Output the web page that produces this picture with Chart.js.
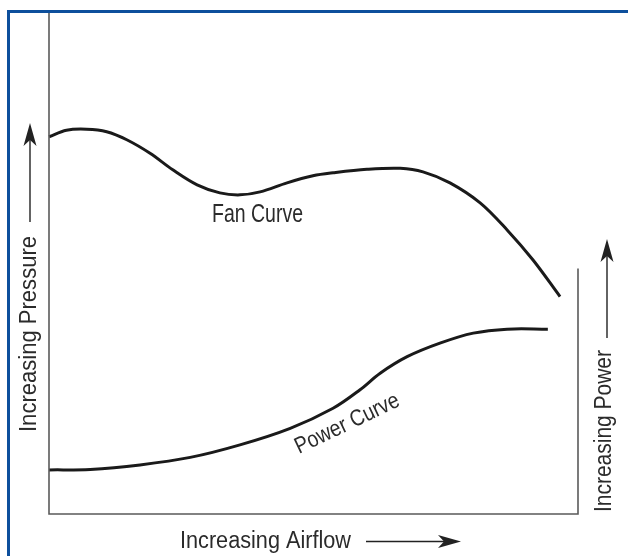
<!DOCTYPE html>
<html>
<head>
<meta charset="utf-8">
<script src="https://cdn.jsdelivr.net/npm/chart.js@4/dist/chart.umd.min.js"></script>
<style>
  html, body { margin: 0; padding: 0; background: #fff; }
  #wrap { width: 628px; height: 556px; position: relative; }
</style>
</head>
<body>
<div id="wrap"><canvas id="c" width="628" height="556"></canvas></div>
<script>
// Airflow (0-100, relative) for each sampled point
const fanAirflow   = [0, 3.3, 7.1, 10.9, 14.7, 19.1, 23.4, 28.0, 32.3, 36.1, 39.9, 45.0, 49.9, 53.7, 60.1, 66.4, 70.7, 75.8, 81.5, 86.6, 91.5, 96.6];
// Pressure (0-100, relative)
const fanPressure  = [75.3, 76.6, 76.8, 76.3, 74.7, 72.0, 68.7, 65.7, 64.1, 63.7, 64.3, 66.1, 67.5, 68.1, 68.8, 69.0, 68.3, 66.1, 62.1, 56.7, 50.7, 43.4];

const powerAirflow = [0, 7.8, 17.2, 26.7, 36.1, 45.6, 53.7, 58.8, 62.6, 67.7, 73.9, 80.2, 86.6, 94.3];
// Power (0-100, relative)
const powerValues  = [8.8, 8.9, 9.8, 11.3, 13.8, 17.1, 21.1, 24.8, 28.1, 31.4, 34.1, 36.1, 36.9, 36.9];

const xLabel = 'Increasing Airflow';
const yLabel = 'Increasing Pressure';
const y2Label = 'Increasing Power';
const fanLabel = 'Fan Curve';
const powerLabel = 'Power Curve';
const powerAxisTop = 49; // height of the right-hand power axis line

const FONT_FAMILY = "'Liberation Sans Narrow', 'Liberation Sans', Arial, sans-serif";
const TEXT_COLOR = '#2b2b2b';

function fitText(ctx, text, x, y, width, size, rot) {
  ctx.save();
  ctx.font = size + 'px ' + FONT_FAMILY;
  const w = ctx.measureText(text).width;
  ctx.translate(x, y);
  ctx.rotate(rot || 0);
  ctx.scale(width / w, 1);
  ctx.fillStyle = TEXT_COLOR;
  ctx.textBaseline = 'alphabetic';
  ctx.textAlign = 'left';
  ctx.fillText(text, 0, 0);
  ctx.restore();
}

function arrow(ctx, x1, y1, x2, y2) {
  const ang = Math.atan2(y2 - y1, x2 - x1);
  const L = 23, H = 6.5, N = 17;
  ctx.save();
  ctx.strokeStyle = '#222';
  ctx.fillStyle = '#222';
  ctx.lineWidth = 1.4;
  ctx.beginPath();
  ctx.moveTo(x1, y1);
  ctx.lineTo(x2 - Math.cos(ang) * N, y2 - Math.sin(ang) * N);
  ctx.stroke();
  ctx.translate(x2, y2);
  ctx.rotate(ang);
  ctx.beginPath();
  ctx.moveTo(0, 0);
  ctx.lineTo(-L, -H);
  ctx.lineTo(-N, 0);
  ctx.lineTo(-L, H);
  ctx.closePath();
  ctx.fill();
  ctx.restore();
}

const decor = {
  id: 'decor',
  beforeDraw(chart) {
    const ctx = chart.ctx;
    ctx.save();
    ctx.fillStyle = '#fff';
    ctx.fillRect(0, 0, chart.width, chart.height);
    ctx.restore();
  },
  afterDatasetsDraw(chart) {
    const ctx = chart.ctx;
    const a = chart.chartArea;
    const ys = chart.scales.y2;
    ctx.save();
    ctx.fillStyle = '#0d4f9c';
    ctx.fillRect(7, 10, 3, chart.height - 10);
    ctx.fillRect(7, 10, chart.width - 7, 3);
    ctx.strokeStyle = '#5a5a5a';
    ctx.lineWidth = 1.6;
    ctx.beginPath();
    ctx.moveTo(a.left, a.top);
    ctx.lineTo(a.left, a.bottom);
    ctx.lineTo(a.right, a.bottom);
    ctx.lineTo(a.right, ys.getPixelForValue(powerAxisTop));
    ctx.stroke();
    ctx.restore();

    fitText(ctx, xLabel, 180, 548, 171, 23, 0);
    arrow(ctx, 366, 541.5, 461, 541.5);

    fitText(ctx, yLabel, 36, 432, 196, 23, -Math.PI / 2);
    arrow(ctx, 30, 222, 30, 123);

    fitText(ctx, y2Label, 611, 512, 162, 23, -Math.PI / 2);
    arrow(ctx, 607, 338, 607, 239);

    fitText(ctx, fanLabel, 212, 222, 91, 25, 0);
    fitText(ctx, powerLabel, 299, 454, 113, 23, -25.5 * Math.PI / 180);
  }
};

new Chart(document.getElementById('c'), {
  type: 'line',
  data: {
    datasets: [
      {
        label: fanLabel,
        data: fanAirflow.map((x, i) => ({ x, y: fanPressure[i] })),
        borderColor: '#1a1a1a',
        borderWidth: 3,
        pointRadius: 0,
        tension: 0.35,
        fill: false,
        clip: false,
        yAxisID: 'y'
      },
      {
        label: powerLabel,
        data: powerAirflow.map((x, i) => ({ x, y: powerValues[i] })),
        borderColor: '#1a1a1a',
        borderWidth: 3,
        pointRadius: 0,
        tension: 0.35,
        fill: false,
        clip: false,
        yAxisID: 'y2'
      }
    ]
  },
  options: {
    responsive: false,
    animation: false,
    devicePixelRatio: 1,
    layout: { padding: { left: 49, top: 13, right: 50, bottom: 42 } },
    plugins: { legend: { display: false }, tooltip: { enabled: false }, title: { display: false } },
    scales: {
      x: { type: 'linear', min: 0, max: 100, display: false },
      y: { type: 'linear', min: 0, max: 100, display: false },
      y2: { type: 'linear', min: 0, max: 100, display: false, position: 'right' }
    }
  },
  plugins: [decor]
});
</script>
</body>
</html>
